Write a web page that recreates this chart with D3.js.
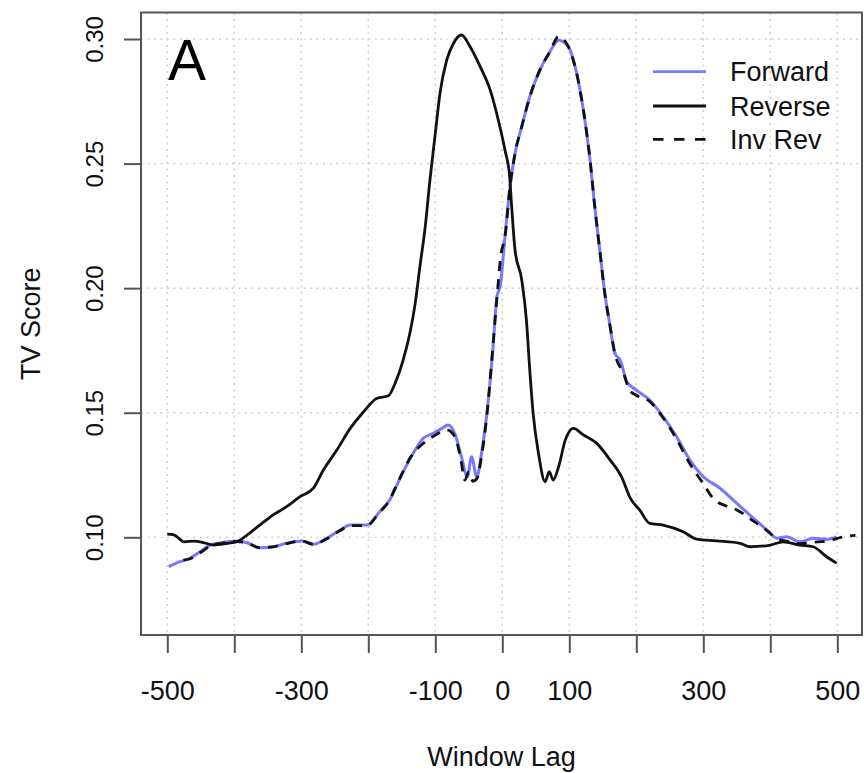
<!DOCTYPE html>
<html>
<head>
<meta charset="utf-8">
<script src="https://cdn.jsdelivr.net/npm/d3@7"></script>
<style>
  html, body { margin: 0; padding: 0; background: #fff; }
  svg { display: block; font-family: "Liberation Sans", Arial, Helvetica, sans-serif; }
</style>
</head>
<body>
<svg id="chart" width="864" height="773"></svg>
<script>
// ---------- DATA ----------
const xTicks = [-500, -400, -300, -200, -100, 0, 100, 200, 300, 400, 500];
const xTickLabels = [-500, -300, -100, 0, 100, 300, 500];
const yTicks = [0.10, 0.15, 0.20, 0.25, 0.30];
const seriesNames = ["Forward", "Reverse", "Inv Rev"];

const forwardLag = [-498, -481, -466, -451, -436, -419, -396, -381, -362, -342, -322, -299, -282, -262, -242, -227, -202, -183, -168, -153, -133, -118, -103, -90, -81, -71, -61, -52, -46, -38, -31, -23, -14.5, -8, -3, 4, 11.5, 19, 29, 41, 56, 71, 84, 98.5, 111, 121, 131, 138, 146, 153, 161, 168, 176, 186, 200, 220, 240, 260, 280, 300, 325, 350, 375, 395, 410, 424, 444, 464, 484, 499];
const forwardVal = [0.0882, 0.0902, 0.0916, 0.0942, 0.0969, 0.0978, 0.0985, 0.0978, 0.0958, 0.0962, 0.0976, 0.0985, 0.0972, 0.0996, 0.1029, 0.1049, 0.1049, 0.1103, 0.1150, 0.1235, 0.1337, 0.1397, 0.1417, 0.1437, 0.1451, 0.1417, 0.1323, 0.1243, 0.1323, 0.1243, 0.1337, 0.1498, 0.1738, 0.1966, 0.2010, 0.2206, 0.2407, 0.2541, 0.2648, 0.2768, 0.2875, 0.2949, 0.2995, 0.2969, 0.2862, 0.2715, 0.2514, 0.2327, 0.2140, 0.1979, 0.1845, 0.1738, 0.1711, 0.1624, 0.1591, 0.1551, 0.1484, 0.1404, 0.1310, 0.1243, 0.1197, 0.1136, 0.1076, 0.1029, 0.0996, 0.1002, 0.0982, 0.0996, 0.0992, 0.1002];

const reverseLag = [-500, -490, -475, -460, -445, -430, -410, -396, -381, -362, -342, -322, -302, -282, -267, -247, -227, -207, -187, -170, -160, -148, -138, -130, -123, -115, -108, -100, -93, -83, -73, -61, -48, -33, -18, -6, 4, 11, 14, 19, 29, 36, 41, 46, 54, 64, 70, 76, 84, 94, 106, 121, 141, 161, 178, 191, 205, 220, 240, 270, 290, 320, 355, 370, 400, 419, 444, 464, 484, 499];
const reverseVal = [0.1013, 0.1010, 0.0982, 0.0985, 0.0978, 0.0969, 0.0976, 0.0982, 0.1009, 0.1049, 0.1090, 0.1123, 0.1163, 0.1197, 0.1270, 0.1350, 0.1437, 0.1504, 0.1558, 0.1568, 0.1618, 0.1711, 0.1819, 0.1939, 0.2086, 0.2247, 0.2434, 0.2621, 0.2782, 0.2915, 0.2982, 0.3016, 0.2969, 0.2889, 0.2795, 0.2675, 0.2554, 0.2447, 0.2327, 0.2153, 0.2033, 0.1872, 0.1671, 0.1498, 0.1337, 0.1223, 0.1263, 0.1230, 0.1283, 0.1390, 0.1437, 0.1411, 0.1377, 0.1310, 0.1243, 0.1157, 0.1110, 0.1056, 0.1049, 0.1022, 0.0993, 0.0986, 0.0976, 0.0962, 0.0969, 0.0982, 0.0969, 0.0962, 0.0922, 0.0896];

const invRevLag = [-476, -466, -451, -436, -419, -396, -381, -362, -342, -322, -299, -282, -262, -242, -227, -202, -185, -170, -156, -136, -118, -100, -83, -71, -62, -56, -50, -44, -38, -31, -23, -15, -8, -2, 4, 11.5, 19, 29, 41, 56, 71, 84, 98.5, 111, 121, 131, 138, 146, 153, 161, 168, 181, 190, 200, 220, 240, 260, 280, 300, 315, 335, 350, 375, 395, 410, 424, 444, 464, 484, 499, 512, 527];
const invRevVal = [0.0908, 0.0914, 0.0938, 0.0965, 0.0976, 0.0983, 0.0978, 0.0958, 0.0962, 0.0975, 0.0985, 0.0972, 0.0994, 0.1027, 0.1047, 0.1047, 0.1095, 0.1142, 0.1220, 0.1325, 0.1377, 0.1410, 0.1431, 0.1405, 0.1315, 0.1230, 0.1262, 0.1225, 0.1235, 0.1325, 0.1490, 0.1735, 0.1962, 0.2135, 0.2206, 0.2407, 0.2541, 0.2648, 0.2768, 0.2875, 0.2949, 0.3010, 0.2969, 0.2862, 0.2715, 0.2514, 0.2327, 0.2140, 0.1979, 0.1845, 0.1738, 0.1658, 0.1590, 0.1570, 0.1545, 0.1480, 0.1395, 0.1295, 0.1215, 0.1155, 0.1125, 0.1110, 0.1065, 0.1027, 0.0995, 0.0985, 0.0975, 0.0980, 0.0985, 0.0995, 0.1003, 0.1008];

// ---------- LAYOUT ----------
const box = { left: 141, right: 862, top: 12.5, bottom: 635 };
const svg = d3.select("#chart");

const x = d3.scaleLinear().domain([-500, 500]).range([167.3, 837.3]);
const y = d3.scaleLinear().domain([0.10, 0.30]).range([537.3, 39]);

const gridColor = "#cfcfcf";
const axisColor = "#555";

// grid
svg.append("g").selectAll("line").data(xTicks).join("line")
  .attr("x1", d => x(d)).attr("x2", d => x(d))
  .attr("y1", box.top).attr("y2", box.bottom)
  .attr("stroke", gridColor).attr("stroke-width", 1.5).attr("stroke-dasharray", "2,4.5");
svg.append("g").selectAll("line").data(yTicks).join("line")
  .attr("x1", box.left).attr("x2", box.right)
  .attr("y1", d => y(d)).attr("y2", d => y(d))
  .attr("stroke", gridColor).attr("stroke-width", 1.5).attr("stroke-dasharray", "2,4.5");

// lines
const line = d3.line().curve(d3.curveMonotoneX).x(d => x(d[0])).y(d => y(d[1]));
const zip = (a, b) => a.map((v, i) => [v, b[i]]);

svg.append("path").datum(zip(forwardLag, forwardVal))
  .attr("d", line).attr("fill", "none").attr("stroke", "#7878ff").attr("stroke-width", 3)
  .attr("stroke-linejoin", "round");
svg.append("path").datum(zip(reverseLag, reverseVal))
  .attr("d", line).attr("fill", "none").attr("stroke", "#111").attr("stroke-width", 2.8)
  .attr("stroke-linejoin", "round");
svg.append("path").datum(zip(invRevLag, invRevVal))
  .attr("d", line).attr("fill", "none").attr("stroke", "#111").attr("stroke-width", 2.8)
  .attr("stroke-dasharray", "10,8").attr("stroke-linejoin", "round");

// box
svg.append("rect")
  .attr("x", box.left).attr("y", box.top)
  .attr("width", box.right - box.left).attr("height", box.bottom - box.top)
  .attr("fill", "none").attr("stroke", axisColor).attr("stroke-width", 2);

// x axis
const xAxis = d3.axisBottom(x).tickValues(xTicks).tickSize(18).tickPadding(0)
  .tickFormat(d => xTickLabels.includes(d) ? String(d) : "");
const gx = svg.append("g").attr("transform", `translate(0,${box.bottom})`).call(xAxis);
gx.select(".domain").remove();
gx.selectAll(".tick line").attr("stroke", axisColor).attr("stroke-width", 2);
gx.selectAll(".tick text").attr("y", 65).attr("dy", null)
  .attr("font-size", 27).attr("fill", "#111").attr("font-family", "Liberation Sans, Arial, sans-serif");

// y axis
const yAxis = d3.axisLeft(y).tickValues(yTicks).tickSize(17).tickPadding(0)
  .tickFormat(d3.format(".2f"));
const gy = svg.append("g").attr("transform", `translate(${box.left},0)`).call(yAxis);
gy.select(".domain").remove();
gy.selectAll(".tick line").attr("stroke", axisColor).attr("stroke-width", 2);
gy.selectAll(".tick text")
  .attr("x", null).attr("dy", null)
  .attr("transform", "translate(-38,0) rotate(-90)")
  .attr("text-anchor", "middle")
  .attr("font-size", 24).attr("fill", "#111").attr("font-family", "Liberation Sans, Arial, sans-serif");

// axis titles
svg.append("text").attr("x", (box.left + box.right) / 2).attr("y", 766)
  .attr("text-anchor", "middle").attr("font-size", 27).attr("fill", "#111").text("Window Lag");
svg.append("text")
  .attr("transform", `translate(40,${(box.top + box.bottom) / 2}) rotate(-90)`)
  .attr("text-anchor", "middle").attr("font-size", 27).attr("fill", "#111").text("TV Score");

// panel label
svg.append("text").attr("x", 168).attr("y", 80).attr("font-size", 57).attr("fill", "#000").text("A");

// legend
const legendY = [71.7, 106, 139.3];
const legendStyle = [
  { stroke: "#7878ff", dash: null },
  { stroke: "#111", dash: null },
  { stroke: "#111", dash: "10.5,10.5" }
];
const lg = svg.append("g");
seriesNames.forEach((name, i) => {
  lg.append("line").attr("x1", 653).attr("x2", 706).attr("y1", legendY[i]).attr("y2", legendY[i])
    .attr("stroke", legendStyle[i].stroke).attr("stroke-width", 2.8)
    .attr("stroke-dasharray", legendStyle[i].dash);
  lg.append("text").attr("x", 730).attr("y", legendY[i]).attr("dy", "0.36em")
    .attr("font-size", 27).attr("fill", "#111").text(name);
});
</script>
</body>
</html>
